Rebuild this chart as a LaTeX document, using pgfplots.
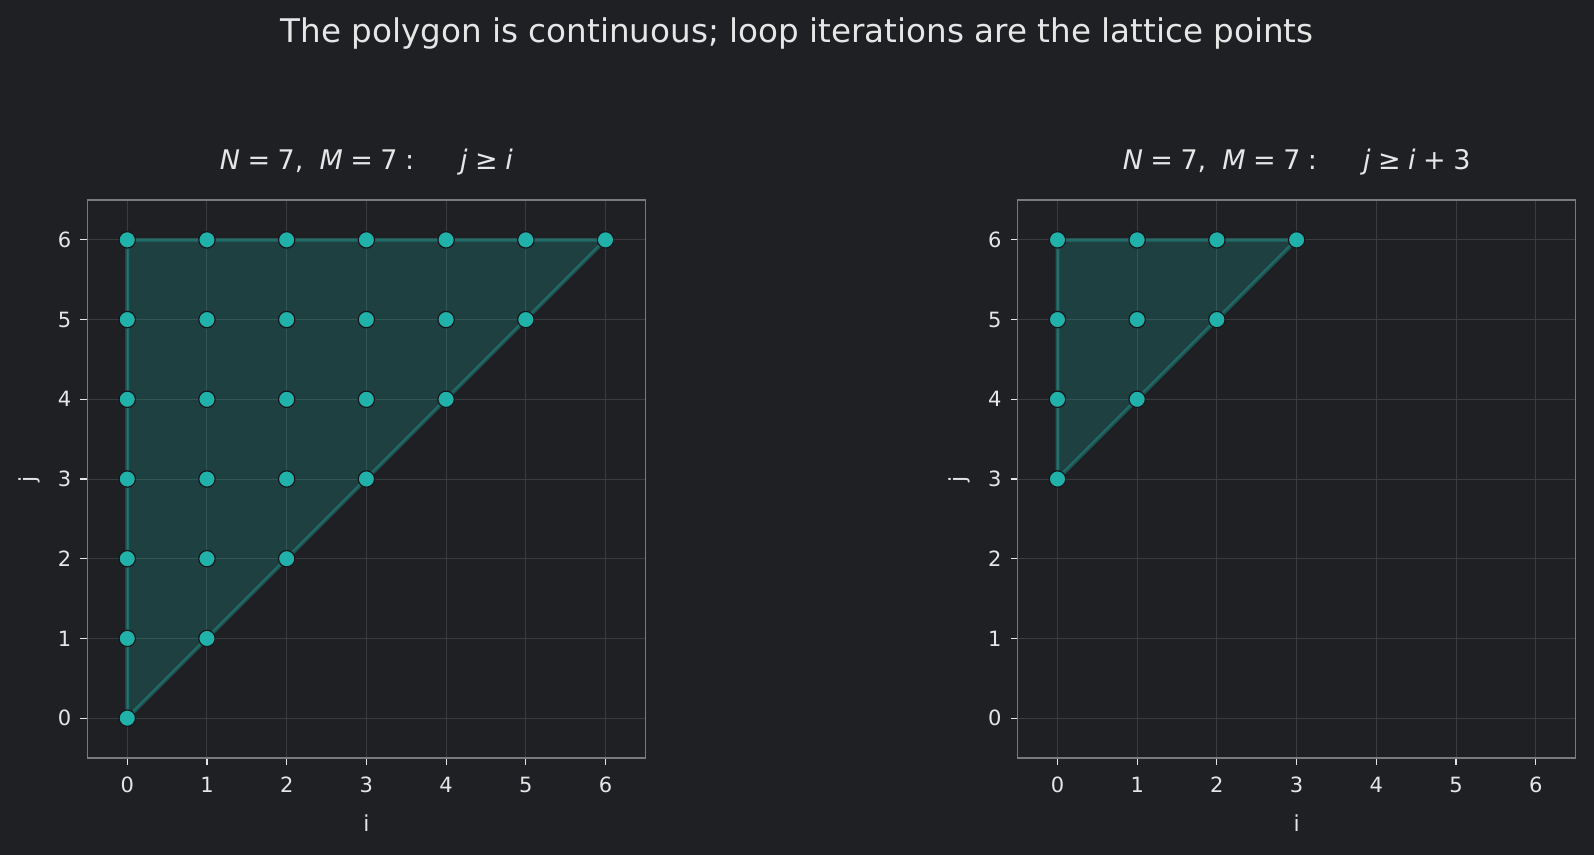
\documentclass[border=0pt]{standalone}
\usepackage{fontspec}
\setmainfont{DejaVu Sans}
\usepackage{pgfplots}
\pgfplotsset{compat=1.18}
\definecolor{bg}{HTML}{1F2024}
\definecolor{teal}{HTML}{20B2AA}
\definecolor{gridc}{HTML}{3A3B3F}
\definecolor{framec}{HTML}{7A7A7E}
\definecolor{txt}{HTML}{E6E6E6}
\pgfplotsset{
  myaxis/.style={
    scale only axis, width=279pt, height=279pt,
    xmin=-0.5, xmax=6.5, ymin=-0.5, ymax=6.5,
    xtick={0,...,6}, ytick={0,...,6},
    grid=major, major grid style={gridc, line width=0.5pt},
    axis line style={framec, line width=0.6pt},
    tick style={txt, line width=0.6pt},
    tick align=outside, major tick length=3.5pt,
    xtick pos=bottom, ytick pos=left,
    ticklabel style={font=\fontsize{10.5}{12}\selectfont, text=txt},
    xticklabel style={yshift=-2.5pt},
    yticklabel style={xshift=-1pt},
    /pgf/number format/assume math mode=true,
    label style={font=\fontsize{11}{12}\selectfont, text=txt},
    xlabel={i}, ylabel={j},
    xlabel style={at={(0.5,0)}, anchor=north, yshift=-25pt},
    ylabel style={at={(0,0.5)}, anchor=south, yshift=20pt},
    title style={font=\fontsize{13.5}{15}\selectfont, text=txt, at={(0.5,1)}, anchor=south, yshift=3pt},
    axis background/.style={fill=bg},
  },
  poly/.style={fill=teal, fill opacity=0.22, draw=teal, draw opacity=0.38, line width=1.8pt},
  pts/.style={only marks, mark=*, mark size=4.1pt, mark options={fill=teal, draw=bg!70!black, line width=0.6pt}},
}
\begin{document}
\begin{tikzpicture}
\fill[bg] (0pt,0pt) rectangle (797pt,427.5pt);
\node[text=txt, font=\fontsize{16.3}{19}\selectfont] at (398.5pt,410.5pt) {The polygon is continuous; loop iterations are the lattice points};
\begin{axis}[myaxis, at={(43.7pt,48.5pt)}, anchor=south west,
  title={\itshape N\upshape\;=\;7,\; \itshape M\upshape\;=\;7\;:\quad\; \itshape j\upshape\;≥\;\itshape i}]
\addplot[poly] coordinates {(0,0) (6,6) (0,6)} -- cycle;
\addplot[pts] coordinates {
(0,0)(0,1)(0,2)(0,3)(0,4)(0,5)(0,6)
(1,1)(1,2)(1,3)(1,4)(1,5)(1,6)
(2,2)(2,3)(2,4)(2,5)(2,6)
(3,3)(3,4)(3,5)(3,6)
(4,4)(4,5)(4,6)
(5,5)(5,6)
(6,6)};
\end{axis}
\begin{axis}[myaxis, at={(508.8pt,48.5pt)}, anchor=south west,
  title={\itshape N\upshape\;=\;7,\; \itshape M\upshape\;=\;7\;:\quad\; \itshape j\upshape\;≥\;\itshape i\upshape\;+\;3}]
\addplot[poly] coordinates {(0,3) (3,6) (0,6)} -- cycle;
\addplot[pts] coordinates {
(0,3)(0,4)(0,5)(0,6)
(1,4)(1,5)(1,6)
(2,5)(2,6)
(3,6)};
\end{axis}
\end{tikzpicture}
\end{document}
